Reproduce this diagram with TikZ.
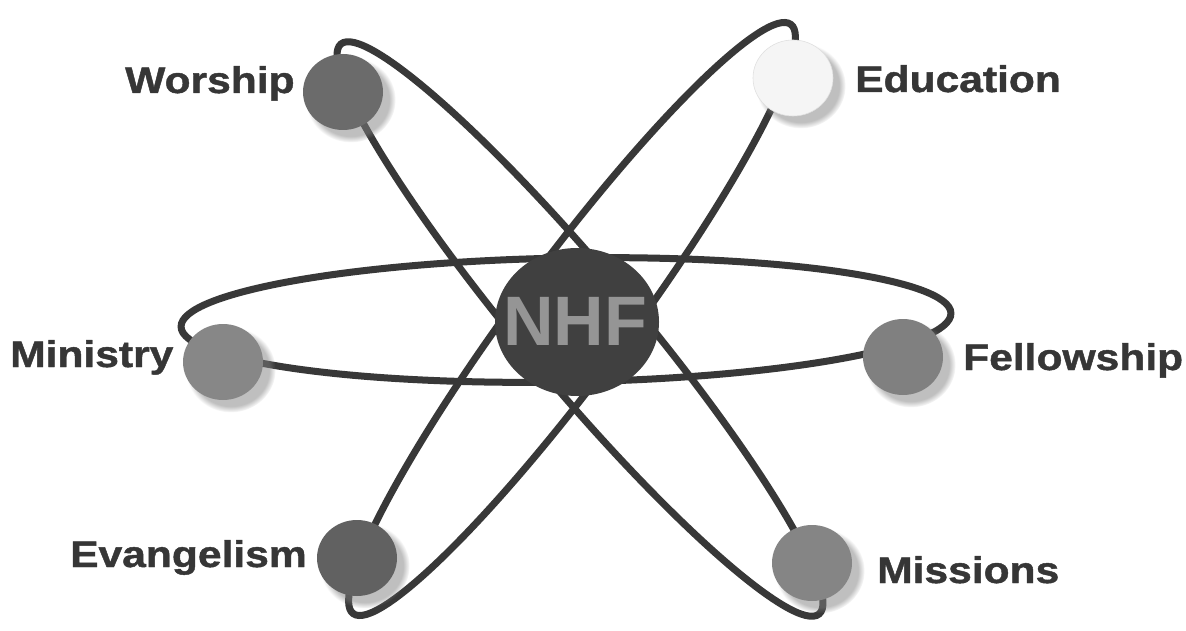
\documentclass[tikz,border=0pt]{standalone}
\usepackage{fontspec}
\setmainfont{Liberation Sans}
\newfontfamily\lblfont[FakeStretch=1.15, FakeBold=1.2]{Liberation Sans}
\usetikzlibrary{shadows,shapes.geometric}
\definecolor{orbit}{HTML}{383838}
\definecolor{labeltext}{HTML}{363636}
\definecolor{corefill}{HTML}{404040}
\definecolor{coretext}{HTML}{959595}
\tikzset{
  orbitline/.style={draw=orbit, line width=7pt},
  electron/.style={ellipse, minimum width=80pt, minimum height=76pt, inner sep=0pt,
    circular drop shadow={shadow xshift=7pt, shadow yshift=-7pt, shadow scale=1.12, opacity=0.5}},
  topic/.style={font=\lblfont\bfseries\fontsize{37}{40}\selectfont, text=labeltext, inner sep=0pt},
}
\begin{document}
\begin{tikzpicture}[x=1pt, y=-1pt]
\useasboundingbox[fill=white] (0,0) rectangle (1186,631);

% three orbits
\draw[orbitline, rotate around={1:(566,320)}] (566,320) ellipse [x radius=385, y radius=62];
\draw[orbitline, rotate around={-50:(580,329)}] (580,329) ellipse [x radius=372, y radius=56];
\draw[orbitline, rotate around={53.4:(572,319)}] (572,319) ellipse [x radius=367, y radius=56];

% nucleus
\node[ellipse, fill=corefill, minimum width=164pt, minimum height=148pt, inner sep=0pt] (core) at (577,322) {};
\node[font=\bfseries\fontsize{70}{72}\selectfont, text=coretext, anchor=base, inner sep=0pt] (coretxt) at (575,345) {NHF};

% electrons
\node[electron, fill=black!58] (worship) at (343,92) {};
\node[electron, fill=black!4, draw=black!12, line width=0.6pt] (education) at (793,78) {};
\node[electron, fill=black!47] (ministry) at (223,362) {};
\node[electron, fill=black!50] (fellowship) at (903,357) {};
\node[electron, fill=black!62] (evangelism) at (357,558) {};
\node[electron, fill=black!48] (missions) at (812,563) {};

% labels
\node[topic, anchor=base west] (lworship) at (125,93) {Worship};
\node[topic, anchor=base west] (leducation) at (855,92) {Education};
\node[topic, anchor=base west] (lministry) at (10,367) {Ministry};
\node[topic, anchor=base west] (lfellowship) at (963,370) {Fellowship};
\node[topic, anchor=base west] (levangelism) at (70,567) {Evangelism};
\node[topic, anchor=base west] (lmissions) at (877,583) {Missions};
\end{tikzpicture}
\end{document}
